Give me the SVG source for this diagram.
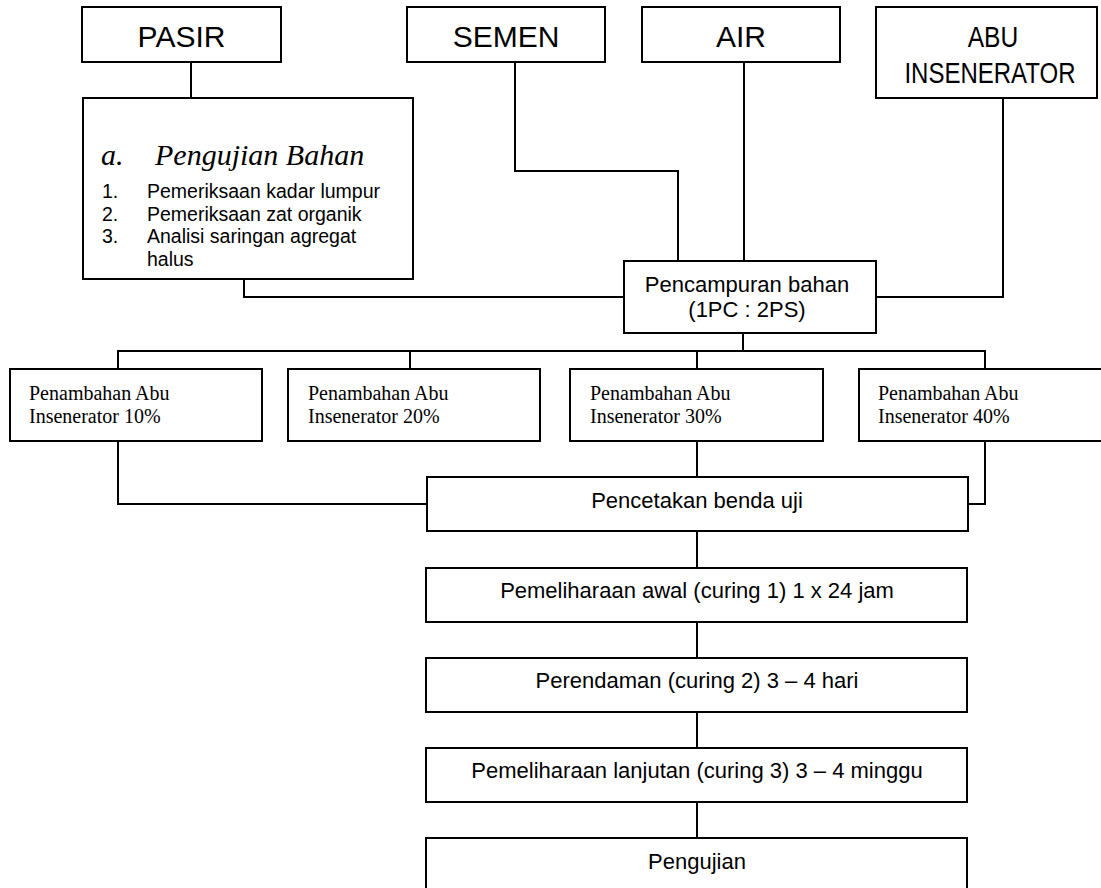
<svg xmlns="http://www.w3.org/2000/svg" width="1101" height="888" viewBox="0 0 1101 888">
<style>
.box{fill:#fff;stroke:#000;stroke-width:2}
.ln{fill:none;stroke:#000;stroke-width:2}
.a{font-family:"Liberation Sans",Arial,sans-serif;fill:#000}
.t{font-family:"Liberation Serif","Times New Roman",serif;fill:#000;font-size:20px}
.big{font-size:30px}
.mid{font-size:22px}
</style>
<rect width="1101" height="888" fill="#fff"/>
<g id="connectors">
<path class="ln" d="M191 62V98"/>
<path class="ln" d="M515 62V171H678V261"/>
<path class="ln" d="M744 62V261"/>
<path class="ln" d="M1003 98V297H876"/>
<path class="ln" d="M244 279V297H624"/>
<path class="ln" d="M743 333V351"/>
<path class="ln" d="M118 369V351H985V369"/>
<path class="ln" d="M410 351V369"/>
<path class="ln" d="M697 351V369"/>
<path class="ln" d="M118 441V504H427"/>
<path class="ln" d="M697 441V477"/>
<path class="ln" d="M985 441V504H968"/>
<path class="ln" d="M697 531V568"/>
<path class="ln" d="M697 622V658"/>
<path class="ln" d="M697 712V748"/>
<path class="ln" d="M697 802V838"/>
</g>
<g id="pasir"><rect class="box" x="82" y="7" width="199" height="55"/><text class="a big" x="181.5" y="47" text-anchor="middle">PASIR</text></g>
<g id="semen"><rect class="box" x="407" y="7" width="198" height="55"/><text class="a big" x="506" y="47" text-anchor="middle">SEMEN</text></g>
<g id="air"><rect class="box" x="642" y="7" width="198" height="55"/><text class="a big" x="741" y="47" text-anchor="middle">AIR</text></g>
<g id="abu"><rect class="box" x="876" y="7" width="221" height="91"/><text class="a big" transform="translate(993 47) scale(0.82 1)" text-anchor="middle">ABU</text><text class="a big" transform="translate(990 83) scale(0.8 1)" text-anchor="middle">INSENERATOR</text></g>
<g id="pengujian-bahan"><rect class="box" x="83" y="98" width="330" height="181"/>
<text font-family="'Liberation Serif','Times New Roman',serif" font-style="italic" font-size="30"><tspan x="101" y="165">a.</tspan><tspan x="155" y="165">Pengujian Bahan</tspan></text>
<text class="a" font-size="19.5"><tspan x="102" y="198">1.</tspan><tspan x="147" y="198">Pemeriksaan kadar lumpur</tspan><tspan x="102" y="220.5">2.</tspan><tspan x="147" y="220.5">Pemeriksaan zat organik</tspan><tspan x="102" y="243">3.</tspan><tspan x="147" y="243">Analisi saringan agregat</tspan><tspan x="147" y="265.5">halus</tspan></text>
</g>
<g id="pencampuran"><rect class="box" x="624" y="261" width="252" height="72"/><text class="a mid" text-anchor="middle"><tspan x="747" y="292">Pencampuran bahan</tspan><tspan x="747" y="317">(1PC : 2PS)</tspan></text></g>
<g id="p10"><rect class="box" x="10" y="369" width="252" height="72"/><text class="t"><tspan x="29" y="400">Penambahan Abu</tspan><tspan x="29" y="423">Insenerator 10%</tspan></text></g>
<g id="p20"><rect class="box" x="288" y="369" width="252" height="72"/><text class="t"><tspan x="308" y="400">Penambahan Abu</tspan><tspan x="308" y="423">Insenerator 20%</tspan></text></g>
<g id="p30"><rect class="box" x="570" y="369" width="253" height="72"/><text class="t"><tspan x="590" y="400">Penambahan Abu</tspan><tspan x="590" y="423">Insenerator 30%</tspan></text></g>
<g id="p40"><rect class="box" x="859" y="369" width="253" height="72"/><text class="t"><tspan x="878" y="400">Penambahan Abu</tspan><tspan x="878" y="423">Insenerator 40%</tspan></text></g>
<g id="pencetakan"><rect class="box" x="427" y="477" width="541" height="54"/><text class="a mid" x="697" y="508" text-anchor="middle">Pencetakan benda uji</text></g>
<g id="curing1"><rect class="box" x="426" y="568" width="541" height="54"/><text class="a mid" x="697" y="598" text-anchor="middle">Pemeliharaan awal (curing 1) 1 x 24 jam</text></g>
<g id="curing2"><rect class="box" x="426" y="658" width="541" height="54"/><text class="a mid" x="697" y="688" text-anchor="middle">Perendaman (curing 2) 3 – 4 hari</text></g>
<g id="curing3"><rect class="box" x="426" y="748" width="541" height="54"/><text class="a mid" x="697" y="778" text-anchor="middle">Pemeliharaan lanjutan (curing 3) 3 – 4 minggu</text></g>
<g id="pengujian"><rect class="box" x="426" y="838" width="541" height="70"/><text class="a mid" x="697" y="869" text-anchor="middle">Pengujian</text></g>
</svg>
